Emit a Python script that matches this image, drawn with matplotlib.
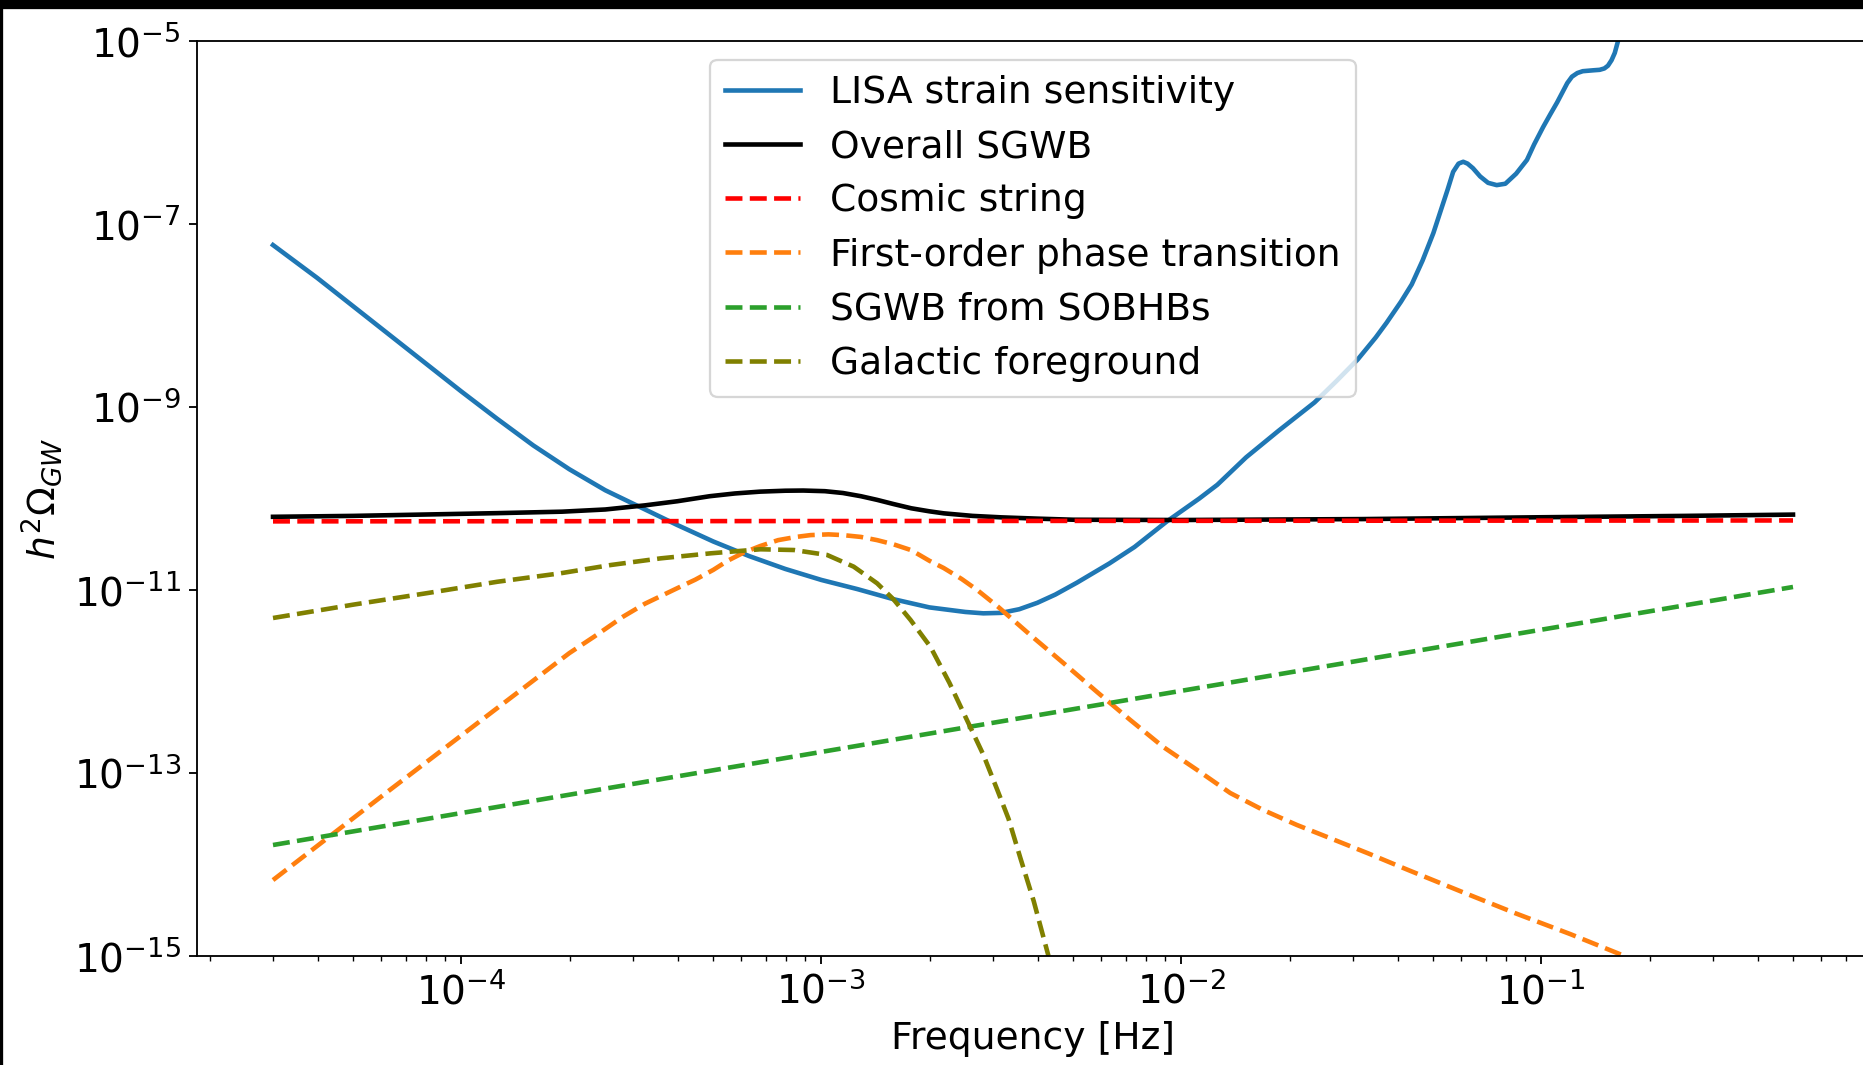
import numpy as np
import matplotlib
matplotlib.use("Agg")
import matplotlib.pyplot as plt
from matplotlib.patches import Rectangle
from matplotlib.ticker import NullLocator

# all curves stored as log10(frequency / Hz) and log10(h^2 Omega_GW)

# LISA sensitivity
lisa_logf = [-4.523, -4.40, -4.30, -4.20, -4.10, -4.00, -3.90, -3.80, -3.70, -3.60,
             -3.50, -3.40, -3.30, -3.20, -3.10, -3.00, -2.90, -2.80, -2.70, -2.60,
             -2.55, -2.50, -2.45, -2.40, -2.35, -2.29, -2.20, -2.13, -2.04, -1.95,
             -1.90, -1.82, -1.73, -1.63, -1.57, -1.51, -1.46, -1.43, -1.39, -1.36,
             -1.33, -1.30, -1.28, -1.26, -1.245, -1.23, -1.217, -1.205, -1.19, -1.17,
             -1.148, -1.124, -1.10, -1.07, -1.04, -1.02, -0.995, -0.975, -0.956, -0.94,
             -0.928, -0.915, -0.90, -0.885, -0.87, -0.855, -0.838, -0.825, -0.815, -0.805,
             -0.796, -0.787]
lisa_logo = [-7.23, -7.59, -7.90, -8.21, -8.52, -8.83, -9.13, -9.42, -9.68, -9.91,
             -10.10, -10.29, -10.47, -10.63, -10.77, -10.89, -10.99, -11.10, -11.19, -11.24,
             -11.255, -11.25, -11.21, -11.14, -11.05, -10.92, -10.71, -10.53, -10.25, -10.00,
             -9.85, -9.55, -9.26, -8.95, -8.72, -8.48, -8.24, -8.08, -7.85, -7.66,
             -7.40, -7.10, -6.86, -6.62, -6.43, -6.34, -6.32, -6.34, -6.39, -6.48,
             -6.55, -6.575, -6.56, -6.45, -6.30, -6.13, -5.94, -5.80, -5.67, -5.55,
             -5.46, -5.39, -5.35, -5.33, -5.325, -5.32, -5.315, -5.30, -5.27, -5.21,
             -5.13, -5.00]

# sum of all background components
total_logf = [-4.523, -4.30, -4.10, -3.90, -3.72, -3.60, -3.49, -3.40, -3.31, -3.24,
              -3.17, -3.10, -3.05, -2.99, -2.94, -2.89, -2.845, -2.80, -2.75, -2.70,
              -2.66, -2.58, -2.50, -2.40, -2.30, -2.00, -1.50, -1.00, -0.60, -0.301]
total_logo = [-10.20, -10.19, -10.175, -10.16, -10.144, -10.12, -10.075, -10.03, -9.975, -9.945,
              -9.925, -9.915, -9.913, -9.92, -9.94, -9.975, -10.015, -10.06, -10.107, -10.14,
              -10.162, -10.19, -10.206, -10.22, -10.232, -10.235, -10.225, -10.205, -10.19, -10.176]

# cosmic strings
cs_logf = [-4.523, -0.301]
cs_logo = [-10.25, -10.24]

# first-order phase transition
pt_logf = [-4.523, -4.20, -3.90, -3.80, -3.70, -3.631, -3.55, -3.49, -3.40, -3.35,
           -3.30, -3.26, -3.215, -3.17, -3.12, -3.07, -3.03, -2.98, -2.94, -2.89,
           -2.845, -2.80, -2.75, -2.70, -2.66, -2.61, -2.567, -2.51, -2.42, -2.327,
           -2.234, -2.142, -2.05, -1.956, -1.864, -1.773, -1.679, -1.588, -1.48, -1.37,
           -1.22, -1.074, -0.92, -0.769]
pt_logo = [-14.17, -13.19, -12.29, -11.99, -11.69, -11.51, -11.29, -11.15, -10.98, -10.887,
           -10.78, -10.68, -10.59, -10.52, -10.455, -10.42, -10.40, -10.392, -10.40, -10.42,
           -10.455, -10.50, -10.565, -10.68, -10.76, -10.88, -11.00, -11.18, -11.49, -11.80,
           -12.115, -12.42, -12.716, -12.967, -13.219, -13.404, -13.568, -13.71, -13.88, -14.06,
           -14.30, -14.53, -14.76, -15.00]

# stellar-origin black hole binaries
bh_logf = [-4.523, -0.301]
bh_logo = [-13.787, -10.967]

# galactic binaries foreground
gal_logf = [-4.523, -4.30, -4.093, -3.90, -3.724, -3.585, -3.446, -3.307, -3.169, -3.076,
            -2.984, -2.91, -2.845, -2.80, -2.752, -2.711, -2.697, -2.644, -2.586, -2.55,
            -2.511, -2.48, -2.447, -2.41, -2.369]
gal_logo = [-11.306, -11.16, -11.033, -10.91, -10.817, -10.727, -10.654, -10.599, -10.555, -10.563,
            -10.617, -10.745, -10.927, -11.10, -11.328, -11.546, -11.62, -12.016, -12.50, -12.80,
            -13.186, -13.50, -13.93, -14.40, -15.00]

curves = [
    (lisa_logf, lisa_logo, "-", "tab:blue", "LISA strain sensitivity"),
    (total_logf, total_logo, "-", "black", "Overall SGWB"),
    (cs_logf, cs_logo, "--", "red", "Cosmic string"),
    (pt_logf, pt_logo, "--", "tab:orange", "First-order phase transition"),
    (bh_logf, bh_logo, "--", "tab:green", "SGWB from SOBHBs"),
    (gal_logf, gal_logo, "--", "olive", "Galactic foreground"),
]

plt.rcParams["font.size"] = 16.4

fig = plt.figure(figsize=(1863 / 165, 1065 / 165), dpi=165)
ax = fig.add_axes([197 / 1863, 109 / 1065, 1672 / 1863, 915 / 1065])

for logf, logo, ls, color, label in curves:
    ax.loglog(np.power(10.0, logf), np.power(10.0, logo), ls, color=color, lw=2, label=label)

ax.set_ylim(1e-15, 1e-5)
ax.set_yticks([1e-15, 1e-13, 1e-11, 1e-9, 1e-7, 1e-5])
ax.yaxis.set_minor_locator(NullLocator())
ax.tick_params(labelsize=17)
ax.set_xlabel("Frequency [Hz]")
ax.set_ylabel(r"$h^2\Omega_{GW}$")
ax.legend(loc="upper center", labelspacing=0.485)

# dark border strips along the top and left edge
fig.add_artist(Rectangle((0, 1 - 8 / 1065), 1, 8 / 1065, transform=fig.transFigure,
                         color="black", zorder=10))
fig.add_artist(Rectangle((0, 0), 2 / 1863, 1, transform=fig.transFigure,
                         color="black", zorder=10))

fig.savefig("out.png", dpi=165)
